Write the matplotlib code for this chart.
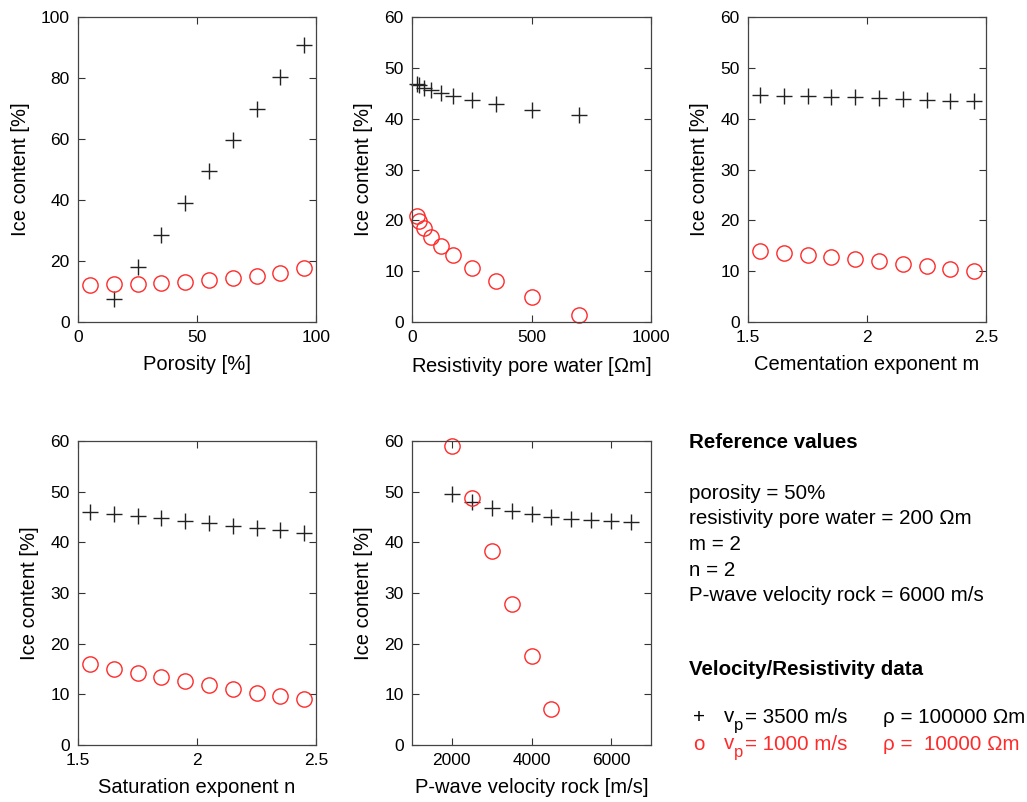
import matplotlib
matplotlib.use("Agg")
import matplotlib.pyplot as plt
import numpy as np

plt.rcParams['font.family'] = ['Liberation Sans', 'DejaVu Sans']
plt.rcParams['mathtext.fontset'] = 'custom'
plt.rcParams['mathtext.rm'] = 'Liberation Sans'
plt.rcParams['mathtext.it'] = 'Liberation Sans:italic'

# ---------------- data ----------------
porosity = [5, 15, 25, 35, 45, 55, 65, 75, 85, 95]
por_black = [np.nan, 7.6, 18.0, 28.5, 38.9, 49.4, 59.7, 69.9, 80.4, 90.8]
por_red = [12.2, 12.4, 12.6, 12.8, 13.2, 13.7, 14.3, 15.2, 16.2, 17.8]

res_water = [20, 30, 50, 80, 120, 170, 250, 350, 500, 700]
res_black = [46.9, 46.6, 46.1, 45.6, 45.1, 44.5, 43.6, 42.9, 41.8, 40.7]
res_red = [20.8, 19.9, 18.4, 16.7, 14.9, 13.1, 10.6, 8.1, 5.0, 1.4]

cem_m = [1.55, 1.65, 1.75, 1.85, 1.95, 2.05, 2.15, 2.25, 2.35, 2.45]
cem_black = [44.6, 44.5, 44.4, 44.3, 44.2, 44.0, 43.8, 43.7, 43.5, 43.4]
cem_red = [14.0, 13.6, 13.2, 12.8, 12.4, 12.0, 11.5, 11.0, 10.5, 10.1]

sat_n = [1.55, 1.65, 1.75, 1.85, 1.95, 2.05, 2.15, 2.25, 2.35, 2.45]
sat_black = [46.0, 45.6, 45.2, 44.8, 44.3, 43.8, 43.3, 42.9, 42.4, 41.9]
sat_red = [15.9, 15.0, 14.2, 13.4, 12.6, 11.8, 11.1, 10.3, 9.6, 9.0]

vel_rock = [2000, 2500, 3000, 3500, 4000, 4500, 5000, 5500, 6000, 6500]
vel_black = [49.6, 47.9, 46.8, 46.2, 45.5, 45.0, 44.7, 44.4, 44.2, 44.0]
vel_red = [59.1, 48.7, 38.3, 27.9, 17.5, 7.1, np.nan, np.nan, np.nan, np.nan]

xlabels = ['Porosity [%]', 'Resistivity pore water [$\\Omega$m]',
           'Cementation exponent m', 'Saturation exponent n',
           'P-wave velocity rock [m/s]']
ylabel = 'Ice content [%]'

W, H = 1027, 802
fig = plt.figure(figsize=(W / 100, H / 100), dpi=100)


def add_ax(l, r, t, b):
    return fig.add_axes([l / W, 1 - b / H, (r - l) / W, (b - t) / H])


boxes = [(78, 316, 17, 322), (412, 651, 17, 322), (748, 986, 17, 322),
         (78, 316, 441, 745), (412, 651, 441, 745)]
xs = [porosity, res_water, cem_m, sat_n, vel_rock]
blacks = [por_black, res_black, cem_black, sat_black, vel_black]
reds = [por_red, res_red, cem_red, sat_red, vel_red]
xlims = [(0, 100), (0, 1000), (1.5, 2.5), (1.5, 2.5), (1000, 7000)]
ylims = [(0, 100), (0, 60), (0, 60), (0, 60), (0, 60)]
xticks = [[0, 50, 100], [0, 500, 1000], [1.5, 2, 2.5], [1.5, 2, 2.5],
          [2000, 4000, 6000]]
xticklabels = [['0', '50', '100'], ['0', '500', '1000'], ['1.5', '2', '2.5'],
               ['1.5', '2', '2.5'], ['2000', '4000', '6000']]
yticks = [[0, 20, 40, 60, 80, 100]] + [[0, 10, 20, 30, 40, 50, 60]] * 4

RED = '#ff2a2a'
for i in range(5):
    ax = add_ax(*boxes[i])
    ax.plot(xs[i], blacks[i], linestyle='none', marker='+', color='#222222',
            markersize=11, markeredgewidth=1.0, clip_on=False)
    ax.plot(xs[i], reds[i], linestyle='none', marker='o', markerfacecolor='none',
            markeredgecolor=RED, markersize=11, markeredgewidth=1.0,
            clip_on=False)
    ax.set_xlim(*xlims[i])
    ax.set_ylim(*ylims[i])
    ax.set_xticks(xticks[i])
    ax.set_xticklabels(xticklabels[i])
    ax.set_yticks(yticks[i])
    ax.tick_params(direction='in', top=True, right=True, length=5, width=0.8,
                   labelsize=12.5, color='#333333', pad=6)
    for s in ax.spines.values():
        s.set_linewidth(0.9)
        s.set_color('#444444')
    ax.set_xlabel(xlabels[i], fontsize=14.5, labelpad=7)
    ax.set_ylabel(ylabel, fontsize=14.5, labelpad=8)

# ---------------- text panel ----------------
def ftext(x, y, s, **kw):
    fig.text(x / W, 1 - y / H, s, va='baseline', ha='left', **kw)

fs = 14.8
ftext(689, 448, 'Reference values', fontsize=fs, fontweight='bold')
ref_lines = ['porosity = 50%', 'resistivity pore water = 200 \u03a9m',
             'm = 2', 'n = 2', 'P-wave velocity rock = 6000 m/s']
for k, line in enumerate(ref_lines):
    ftext(689, 499 + k * 25.5, line, fontsize=fs)
ftext(689, 675, 'Velocity/Resistivity data', fontsize=fs, fontweight='bold')

legend_rows = [('+', '= 3500 m/s', '\u03c1 = 100000 \u03a9m', 'black', 723),
               ('o', '= 1000 m/s', '\u03c1 =  10000 \u03a9m', RED, 750)]
for sym, vtxt, rtxt, col, yb in legend_rows:
    ftext(693, yb, sym, fontsize=fs, color=col)
    ftext(724, yb - 1, 'v', fontsize=fs, color=col)
    ftext(733.5, yb + 7, 'p', fontsize=12, color=col)
    ftext(745, yb, vtxt, fontsize=fs, color=col)
    ftext(883, yb, rtxt, fontsize=fs, color=col)

fig.savefig('out.png', dpi=100)
